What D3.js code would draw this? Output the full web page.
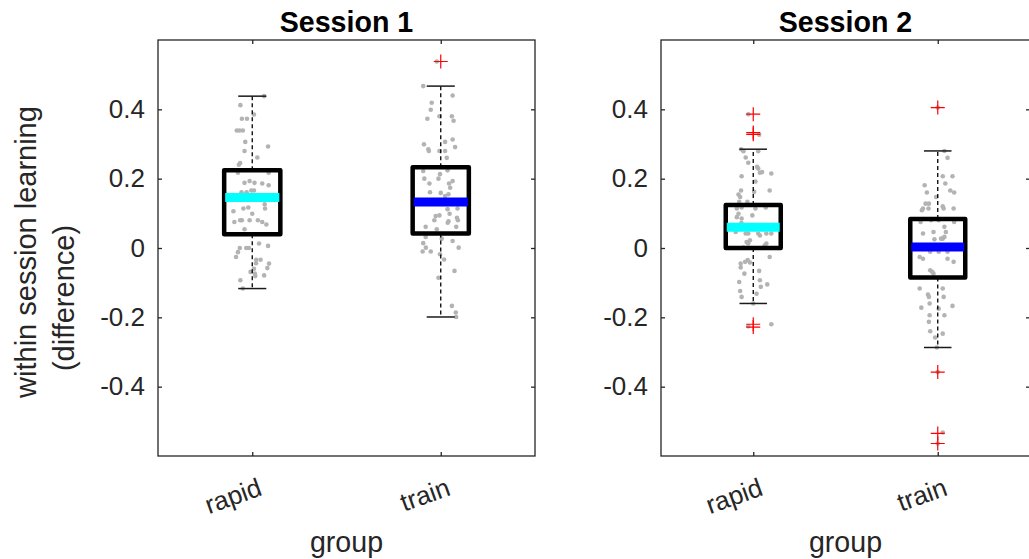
<!DOCTYPE html>
<html><head><meta charset="utf-8">
<script src="https://cdn.jsdelivr.net/npm/d3@7"></script>
<style>body{margin:0;background:#fff}svg{display:block}</style>
</head><body>
<svg id="chart" width="1029" height="559"></svg>
<script>
// ---------------- DATA ----------------
const categories = ["rapid", "train"];
const sessionTitles = ["Session 1", "Session 2"];
const yTickValues = [-0.4, -0.2, 0, 0.2, 0.4];
const yLabelLines = ["within session learning", "(difference)"];
const xLabel = "group";

// box statistics: [session][group]
const q1Values      = [[0.040, 0.042], [0.000, -0.085]];
const medianValues  = [[0.146, 0.133], [0.060, 0.003]];
const q3Values      = [[0.224, 0.233], [0.124, 0.084]];
const whiskerLow    = [[-0.117, -0.199], [-0.160, -0.287]];
const whiskerHigh   = [[0.438, 0.467], [0.285, 0.280]];
const outliers      = [[[], [0.538]], [[0.386, 0.333, 0.328, -0.220, -0.228], [0.405, -0.358, -0.535, -0.564]]];

// individual data points (values) and their horizontal jitter (in category units)
const s1RapidVals = [0.438,0.412,0.385,0.373,0.373,0.339,0.339,0.339,0.306,0.293,0.280,0.261,0.245,0.240,0.217,0.217,0.193,0.188,0.188,0.186,0.181,0.166,0.166,0.161,0.161,0.150,0.145,0.140,0.126,0.117,0.114,0.114,0.106,0.099,0.080,0.080,0.080,0.080,0.075,0.075,0.068,0.054,0.013,0.000,0.000,0.000,0.006,-0.012,-0.026,-0.034,-0.034,-0.045,-0.044,-0.058,-0.060,-0.069,-0.074,-0.081,-0.079,-0.093,-0.117];
const s1RapidJit  = [0.063,-0.063,0.009,-0.055,-0.028,-0.082,-0.068,-0.050,-0.037,0.084,-0.041,0.027,-0.064,-0.071,-0.076,0.087,-0.014,-0.041,0.012,0.053,0.087,-0.005,0.009,-0.057,-0.030,-0.016,0.043,-0.075,0.066,-0.021,-0.047,0.068,-0.100,0.000,0.030,-0.064,-0.055,-0.014,-0.095,0.053,0.075,-0.041,0.036,-0.066,-0.032,-0.018,0.084,-0.076,-0.086,0.021,0.044,0.089,0.020,0.080,0.009,-0.009,0.014,0.016,0.063,-0.063,-0.050];

const s1TrainVals = [0.538,0.467,0.440,0.419,0.399,0.380,0.367,0.373,0.380,0.299,0.285,0.280,0.313,0.306,0.291,0.280,0.280,0.260,0.224,0.222,0.213,0.200,0.200,0.186,0.193,0.186,0.174,0.161,0.159,0.155,0.150,0.130,0.135,0.112,0.114,0.099,0.092,0.094,0.080,0.077,0.073,0.087,0.080,0.061,0.061,0.054,0.032,0.027,0.020,0.014,0.001,-0.010,-0.010,0.001,-0.018,-0.033,-0.066,-0.086,-0.167,-0.186,-0.199];
const s1TrainJit  = [-0.021,-0.093,0.063,-0.048,-0.053,0.059,0.068,-0.071,-0.007,-0.089,-0.066,-0.063,0.063,0.023,0.076,-0.007,0.023,0.032,0.036,-0.093,-0.004,-0.087,-0.012,-0.060,0.063,0.044,0.050,-0.057,0.000,0.041,0.023,-0.027,0.064,0.036,0.089,0.047,-0.027,-0.007,-0.034,0.041,0.037,0.086,0.091,-0.080,0.082,-0.021,-0.080,0.005,0.063,-0.093,-0.079,-0.053,-0.096,0.095,-0.004,0.018,0.073,-0.012,0.059,0.080,0.082];

const s2RapidVals = [0.386,0.327,0.285,0.279,0.279,0.261,0.246,0.234,0.229,0.217,0.219,0.215,0.207,0.192,0.166,0.166,0.154,0.147,0.162,0.133,0.133,0.114,0.117,0.114,0.117,0.099,0.089,0.094,0.085,0.072,0.060,0.062,0.058,0.046,0.042,0.042,0.042,0.036,0.042,0.042,0.017,0.013,0.022,0.008,0.013,0.001,-0.026,-0.045,-0.040,-0.035,-0.042,-0.056,-0.074,-0.066,-0.093,-0.098,-0.105,-0.112,-0.132,-0.124,-0.141,-0.160,-0.220,-0.226];
const s2RapidJit  = [-0.027,0.032,-0.066,-0.053,0.027,-0.041,-0.027,0.021,0.027,0.036,0.048,0.098,-0.063,0.012,-0.066,0.089,-0.080,-0.071,0.005,-0.076,-0.032,-0.089,-0.063,0.012,0.068,-0.080,-0.089,-0.005,-0.063,-0.064,-0.027,0.027,0.070,-0.095,-0.041,-0.027,0.027,0.036,0.071,0.098,-0.036,-0.027,-0.018,0.063,0.071,-0.053,0.089,-0.068,-0.044,-0.030,-0.018,-0.068,-0.048,0.032,0.036,-0.076,0.076,0.041,0.018,-0.071,-0.063,0.000,0.098,-0.027];

const s2TrainVals = [0.405,0.280,0.260,0.207,0.207,0.181,0.186,0.160,0.166,0.160,0.147,0.128,0.128,0.114,0.109,0.114,0.120,0.114,0.114,0.080,0.080,0.075,0.075,0.061,0.042,0.046,0.046,0.027,0.027,0.032,0.025,0.005,0.003,0.002,0.004,0.001,-0.011,-0.011,-0.011,-0.026,-0.031,-0.031,-0.040,-0.064,-0.069,-0.074,-0.117,-0.134,-0.141,-0.160,-0.117,-0.141,-0.172,-0.167,-0.175,-0.194,-0.194,-0.213,-0.240,-0.247,-0.258,-0.287,-0.358,-0.532,-0.564];
const s2TrainJit  = [0.000,0.036,0.053,0.027,0.080,-0.071,0.041,-0.059,0.068,0.089,-0.009,-0.066,-0.048,-0.080,-0.086,-0.050,0.027,0.032,0.086,-0.036,0.005,-0.093,0.089,0.036,-0.080,-0.023,0.044,0.027,0.018,0.036,-0.018,-0.064,-0.037,0.011,0.048,0.075,-0.041,0.005,0.053,-0.098,-0.080,0.053,0.086,-0.041,-0.030,-0.023,-0.098,-0.053,-0.048,-0.044,0.027,0.032,-0.089,0.080,0.005,-0.044,0.036,-0.048,-0.041,0.027,-0.014,-0.005,0.000,0.027,0.000];

const pointValues = [[s1RapidVals, s1TrainVals], [s2RapidVals, s2TrainVals]];
const pointJitter = [[s1RapidJit, s1TrainJit], [s2RapidJit, s2TrainJit]];

// ---------------- STYLE / LAYOUT ----------------
const FONT = "'Liberation Sans', Arial, Helvetica, sans-serif";
const AX = "#262626";
const medianColors = ["#00ffff", "#0000ff"];
const panels = [{left: 158, right: 535}, {left: 661, right: 1030}];
const plotTop = 40, plotBottom = 456;
const boxWidth = 0.298;

const svg = d3.select("#chart");
const y = d3.scaleLinear().domain([-0.6, 0.6]).range([plotBottom, plotTop]);

panels.forEach((p, s) => {
  const x = d3.scaleLinear().domain([0.5, 2.5]).range([p.left, p.right]);
  const g = svg.append("g");

  g.append("rect").attr("x", p.left).attr("y", plotTop)
    .attr("width", p.right - p.left).attr("height", plotBottom - plotTop)
    .attr("fill", "none").attr("stroke", AX).attr("stroke-width", 1.3);

  const fmt = d => String(d);
  const yl = g.append("g").attr("transform", `translate(${p.left},0)`)
    .call(d3.axisLeft(y).tickValues(yTickValues).tickSizeInner(-4).tickSizeOuter(0).tickPadding(13).tickFormat(fmt));
  const yr = g.append("g").attr("transform", `translate(${p.right},0)`)
    .call(d3.axisRight(y).tickValues(yTickValues).tickSizeInner(-4).tickSizeOuter(0).tickFormat(""));
  const xb = g.append("g").attr("transform", `translate(0,${plotBottom})`)
    .call(d3.axisBottom(x).tickValues([1, 2]).tickSizeInner(-4).tickSizeOuter(0).tickFormat(""));
  const xt = g.append("g").attr("transform", `translate(0,${plotTop})`)
    .call(d3.axisTop(x).tickValues([1, 2]).tickSizeInner(-4).tickSizeOuter(0).tickFormat(""));
  [yl, yr, xb, xt].forEach(a => {
    a.select(".domain").remove();
    a.selectAll("line").attr("stroke", AX).attr("stroke-width", 1.3);
    a.selectAll("text").attr("fill", AX).style("font-family", FONT).style("font-size", "26px");
  });

  categories.forEach((c, i) => {
    g.append("text").text(c)
      .attr("transform", `translate(${x(i + 1) + 8},486) rotate(-20)`)
      .attr("text-anchor", "end").attr("dominant-baseline", "central")
      .attr("fill", AX).style("font-family", FONT).style("font-size", "26px");
  });

  g.append("text").text(sessionTitles[s])
    .attr("x", (p.left + p.right) / 2).attr("y", 32).attr("text-anchor", "middle")
    .attr("fill", "#000").style("font-family", FONT).style("font-size", "28.6px").style("font-weight", "bold");

  g.append("text").text(xLabel)
    .attr("x", (p.left + p.right) / 2).attr("y", 552).attr("text-anchor", "middle")
    .attr("fill", AX).style("font-family", FONT).style("font-size", "28.6px");

  categories.forEach((c, i) => {
    const cx = i + 1;
    const vals = pointValues[s][i], jit = pointJitter[s][i];
    g.append("g").selectAll("circle").data(vals).join("circle")
      .attr("cx", (d, k) => x(cx + jit[k])).attr("cy", d => y(d))
      .attr("r", 2.3).attr("fill", "#b3b3b3");

    const bx0 = x(cx - boxWidth / 2), bx1 = x(cx + boxWidth / 2);
    const cap0 = x(cx - boxWidth / 4), cap1 = x(cx + boxWidth / 4);
    g.append("line").attr("x1", x(cx)).attr("x2", x(cx))
      .attr("y1", y(q3Values[s][i])).attr("y2", y(whiskerHigh[s][i]))
      .attr("stroke", "#000").attr("stroke-width", 1.3).attr("stroke-dasharray", "4,3");
    g.append("line").attr("x1", x(cx)).attr("x2", x(cx))
      .attr("y1", y(q1Values[s][i])).attr("y2", y(whiskerLow[s][i]))
      .attr("stroke", "#000").attr("stroke-width", 1.3).attr("stroke-dasharray", "4,3");
    [whiskerHigh[s][i], whiskerLow[s][i]].forEach(w => {
      g.append("line").attr("x1", cap0).attr("x2", cap1).attr("y1", y(w)).attr("y2", y(w))
        .attr("stroke", "#1a1a1a").attr("stroke-width", 1.5);
    });
    g.append("rect").attr("x", bx0).attr("y", y(q3Values[s][i]))
      .attr("width", bx1 - bx0).attr("height", y(q1Values[s][i]) - y(q3Values[s][i]))
      .attr("fill", "none").attr("stroke", "#000").attr("stroke-width", 4.5)
      .attr("stroke-linejoin", "round");
    g.append("line").attr("x1", bx0 + 1).attr("x2", bx1 - 1)
      .attr("y1", y(medianValues[s][i])).attr("y2", y(medianValues[s][i]))
      .attr("stroke", medianColors[i]).attr("stroke-width", 9);
    outliers[s][i].forEach(o => {
      const ox = x(cx), oy = y(o);
      g.append("path").attr("d", `M${ox - 7},${oy}H${ox + 7}M${ox},${oy - 7}V${oy + 7}`)
        .attr("stroke", "#ff0000").attr("stroke-width", 1.2).attr("fill", "none");
    });
  });
});

const ylab = svg.append("g");
[[36, 252], [74, 298]].forEach((pos, i) => {
  ylab.append("text").text(yLabelLines[i])
    .attr("transform", `translate(${pos[0]},${pos[1]}) rotate(-90)`)
    .attr("text-anchor", "middle").attr("fill", AX)
    .style("font-family", FONT).style("font-size", "29px");
});
</script>
</body></html>
